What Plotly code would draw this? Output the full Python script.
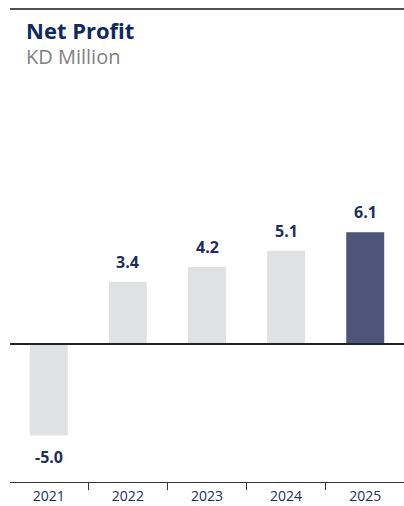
import plotly.graph_objects as go

# Net profit, KD million
years = ["2021", "2022", "2023", "2024", "2025"]
net_profit = [-5.0, 3.4, 4.2, 5.1, 6.1]
value_labels = ["-5.0", "3.4", "4.2", "5.1", "6.1"]

GREY = "#e0e1e3"
NAVY_BAR = "#4d5578"
NAVY_TEXT = "#1b2e5e"
FONT = "Open Sans"

bar_colors = [NAVY_BAR if y == years[-1] else GREY for y in years]

fig = go.Figure(
    go.Bar(
        x=years,
        y=net_profit,
        marker=dict(color=bar_colors, line=dict(width=0)),
        width=0.48,
        hoverinfo="skip",
    )
)

# value labels above positive bars / below negative bars
# (category axis: annotations are placed by category index)
for i, (v, lab) in enumerate(zip(net_profit, value_labels)):
    fig.add_annotation(
        x=i, y=v, xref="x", yref="y", text=f"<b>{lab}</b>", showarrow=False,
        yshift=20 if v >= 0 else -21,
        font=dict(family=FONT, size=16, color=NAVY_TEXT),
    )

# heading
fig.add_annotation(
    xref="paper", yref="paper", x=0.035, y=1.0, yshift=70,
    xanchor="left", yanchor="middle", showarrow=False,
    text="<b>Net Profit</b>",
    font=dict(family=FONT, size=22, color="#0f2a5e"),
)
fig.add_annotation(
    xref="paper", yref="paper", x=0.035, y=1.0, yshift=44,
    xanchor="left", yanchor="middle", showarrow=False,
    text="KD Million",
    font=dict(family=FONT, size=20, color="#7f7f7f"),
)

# rule above the heading
fig.add_shape(
    type="line", xref="paper", yref="paper", x0=0, x1=1, y0=1.238, y1=1.238,
    line=dict(color="#1a1a1a", width=1.5),
)
# zero line
fig.add_shape(
    type="line", xref="paper", yref="y", x0=0, x1=1, y0=0, y1=0,
    line=dict(color="#222222", width=2),
)

fig.update_layout(
    width=404, height=506,
    margin=dict(l=10, r=0, t=100, b=24),
    paper_bgcolor="white", plot_bgcolor="white",
    showlegend=False,
    xaxis=dict(
        type="category", range=[-0.49, 4.49],
        showline=True, linecolor="#333333", linewidth=1,
        ticks="outside", tickson="boundaries", ticklen=7, tickcolor="#333333",
        tickfont=dict(family=FONT, size=14, color=NAVY_TEXT),
        ticklabelstandoff=1,
        showgrid=False, fixedrange=True,
    ),
    yaxis=dict(
        range=[-7.54, 13.33], showticklabels=False, ticks="", showline=False,
        showgrid=False, zeroline=False, fixedrange=True,
    ),
)

fig.write_html("out.html")
